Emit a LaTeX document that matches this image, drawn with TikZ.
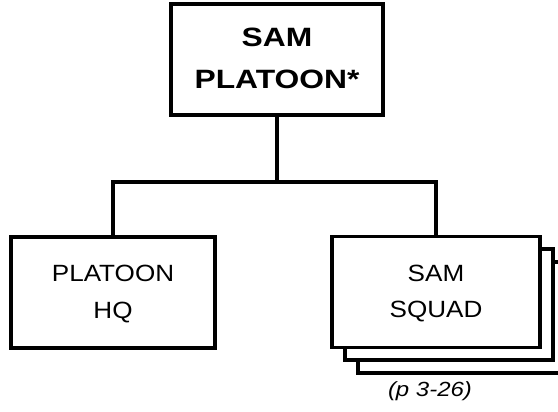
\documentclass[tikz,border=0pt]{standalone}
\usepackage{fontspec}
\newfontfamily\hfont{Liberation Sans}
\newcommand{\widetop}[1]{\scalebox{1.2}[1]{\begin{tabular}{@{}c@{}}#1\end{tabular}}}
\newcommand{\widelow}[1]{\scalebox{1.11}[1]{\begin{tabular}{@{}c@{}}#1\end{tabular}}}
\begin{document}
\begin{tikzpicture}[x=1pt,y=-1pt,
  orgbox/.style={draw=black, line width=3.2pt, fill=white, inner sep=0pt, align=center},
  conn/.style={draw=black, line width=3.2pt}]
\useasboundingbox (0,0) rectangle (558,412);
% top box
\node[orgbox, minimum width=212pt, minimum height=111pt,
      font=\hfont\bfseries\fontsize{26.5}{42}\selectfont] (top) at (277,59.5) {\widetop{SAM\\PLATOON*}};
% left box
\node[orgbox, minimum width=204pt, minimum height=111pt,
      font=\hfont\fontsize{23.5}{36.5}\selectfont] (hq) at (113,292.5) {\widelow{PLATOON\\HQ}};
% stacked squad boxes
\node[orgbox, minimum width=208pt, minimum height=111pt] (sq3) at (462,317.5) {};
\node[orgbox, minimum width=208pt, minimum height=111pt] (sq2) at (449,304.5) {};
\node[orgbox, minimum width=208pt, minimum height=111pt,
      font=\hfont\fontsize{23.5}{36.5}\selectfont] (sq) at (436,292) {\widelow{SAM\\SQUAD}};
% connectors
\coordinate (j) at (277,182);
\draw[conn] (top.south) -- (j);
\draw[conn] (hq.north) |- (j) -| (sq.north);
% page ref
\node[font=\hfont\itshape\fontsize{20.5}{24}\selectfont] (ref) at (430,391) {\scalebox{1.17}[1]{(p 3-26)}};
\end{tikzpicture}
\end{document}
